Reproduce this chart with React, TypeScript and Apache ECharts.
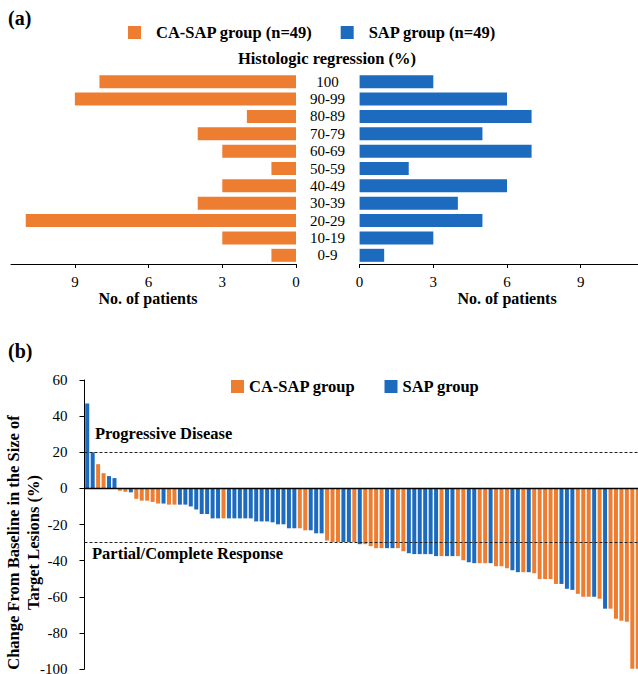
import React, { useEffect, useRef } from "react";
import * as echarts from "echarts";

// ---------- Panel (a): histologic regression ----------
const regressionCategories = ["100", "90-99", "80-89", "70-79", "60-69", "50-59", "40-49", "30-39", "20-29", "10-19", "0-9"];
const caSapCounts = [8, 9, 2, 4, 3, 1, 3, 4, 11, 3, 1];
const sapCounts = [3, 6, 7, 5, 7, 2, 6, 4, 5, 3, 1];

// ---------- Panel (b): waterfall ----------
const waterfallValues = [
  47, 20, 13.4, 8.4, 6.8, 5.7, -1.3, -1.9, -2.2, -5.8,
  -6.8, -6.8, -7.5, -8.4, -8.4, -9, -9, -9, -9, -10,
  -11.7, -14.2, -14.2, -16.6, -16.6, -16.6, -16.6, -16.6, -16.6, -16.6,
  -16.6, -18.3, -18.3, -18.3, -18.8, -19.9, -19.9, -22.1, -22.1, -22.1,
  -23.2, -23.2, -24.9, -24.9, -28.9, -29.8, -29.8, -29.8, -29.8, -29.8,
  -30.9, -30.9, -32, -33.1, -33.1, -33.1, -33.1, -33.1, -34.8, -35.9,
  -36.4, -36.4, -36.4, -36.4, -37.5, -37.5, -37.5, -37.5, -37.5, -39.8,
  -40.9, -41.4, -41.4, -41.4, -41.4, -43.1, -43.1, -44.2, -45.3, -46.4,
  -46.4, -46.4, -47, -50.2, -50.2, -50.2, -52.9, -52.9, -55.6, -56.2,
  -58.4, -60, -60, -60, -61.1, -66.6, -66.6, -72.2, -73.3, -73.9,
  -99.8, -99.8,
];
// C = CA-SAP group, S = SAP group
const waterfallGroups = [
  "S", "S", "C", "C", "S", "S", "C", "C", "S", "C",
  "C", "C", "C", "C", "S", "C", "C", "S", "S", "S",
  "S", "S", "S", "S", "S", "C", "S", "S", "S", "S",
  "S", "S", "S", "S", "S", "S", "S", "S", "S", "C",
  "C", "S", "S", "S", "C", "C", "C", "S", "S", "C",
  "S", "C", "C", "C", "C", "S", "S", "C", "C", "S",
  "S", "S", "S", "S", "S", "C", "S", "S", "C", "C",
  "S", "S", "C", "C", "S", "C", "C", "C", "S", "S",
  "C", "S", "C", "C", "C", "C", "C", "S", "S", "S",
  "C", "C", "C", "S", "C", "S", "C", "C", "C", "C",
  "C", "C",
];
const thresholdLines = [20, -30];

const ORANGE = "#ED7D31";
const BLUE = "#1C6BBF";
const FONT = "'Liberation Serif', 'Times New Roman', Times, serif";
const BOLD_SIZE = 16.5;

export default function App() {
  const ref = useRef<HTMLDivElement>(null);

  useEffect(() => {
    if (!ref.current) return;
    const chart = echarts.init(ref.current, null, { renderer: "svg" });
    const patientIds = waterfallValues.map((_, i) => String(i + 1));
    const caData = waterfallValues.map((v, i) => (waterfallGroups[i] === "C" ? v : "-"));
    const sapData = waterfallValues.map((v, i) => (waterfallGroups[i] === "S" ? v : "-"));

    const tickLabel = { color: "#000", fontFamily: FONT, fontSize: 15 };
    const axisNameStyle = { color: "#000", fontFamily: FONT, fontSize: 16, fontWeight: "bold" as const };
    const boldText = { fontFamily: FONT, fontSize: BOLD_SIZE, fontWeight: "bold", fill: "#000" };

    const option: any = {
      animation: false,
      textStyle: { fontFamily: FONT },
      legend: [
        {
          data: ["CA-SAP group (n=49)", "SAP group (n=49)"],
          left: 128,
          top: 24,
          padding: 0,
          itemWidth: 13,
          itemHeight: 13,
          itemGap: 28,
          icon: "rect",
          selectedMode: false,
          textStyle: { color: "#000", fontFamily: FONT, fontSize: BOLD_SIZE, fontWeight: "bold", padding: [0, 0, 0, 10] },
        },
        {
          data: ["CA-SAP group", "SAP group"],
          left: 231,
          top: 378,
          padding: 0,
          itemWidth: 13,
          itemHeight: 13,
          itemGap: 29,
          icon: "rect",
          selectedMode: false,
          textStyle: { color: "#000", fontFamily: FONT, fontSize: BOLD_SIZE, fontWeight: "bold" },
        },
      ],
      grid: [
        { left: 11, top: 73, width: 285, height: 191, outerBoundsMode: "none", containLabel: false },
        { left: 359.6, top: 73, width: 285, height: 191, outerBoundsMode: "none", containLabel: false },
        { left: 84.5, top: 380, width: 556, height: 289, outerBoundsMode: "none", containLabel: false },
      ],
      xAxis: [
        {
          gridIndex: 0,
          type: "value",
          inverse: true,
          min: 0,
          max: 11.6,
          interval: 3,
          axisLine: { show: true, lineStyle: { color: "#000", width: 1 } },
          axisTick: { show: true, length: 4, lineStyle: { color: "#000" } },
          axisLabel: { ...tickLabel, margin: 10, showMaxLabel: false },
          splitLine: { show: false },
          name: "No. of patients",
          nameLocation: "middle",
          nameGap: 34,
          nameMoveOverlap: false,
          nameTextStyle: { ...axisNameStyle, verticalAlign: "middle", padding: [0, 11, 0, 0] },
        },
        {
          gridIndex: 1,
          type: "value",
          min: 0,
          max: 11.6,
          interval: 3,
          axisLine: { show: true, lineStyle: { color: "#000", width: 1 } },
          axisTick: { show: true, length: 4, lineStyle: { color: "#000" } },
          axisLabel: { ...tickLabel, margin: 10, showMaxLabel: false },
          splitLine: { show: false },
          name: "No. of patients",
          nameLocation: "middle",
          nameGap: 34,
          nameMoveOverlap: false,
          nameTextStyle: { ...axisNameStyle, verticalAlign: "middle", padding: [0, 0, 0, 10] },
        },
        {
          gridIndex: 2,
          type: "category",
          data: patientIds,
          z: 5,
          axisLine: { show: true, onZero: true, lineStyle: { color: "#000", width: 1.3 } },
          axisTick: { show: false },
          axisLabel: { show: false },
          splitLine: { show: false },
        },
      ],
      yAxis: [
        {
          gridIndex: 0,
          type: "category",
          data: regressionCategories,
          inverse: true,
          axisLine: { show: false },
          axisTick: { show: false },
          axisLabel: { show: false },
        },
        {
          gridIndex: 1,
          type: "category",
          data: regressionCategories,
          inverse: true,
          axisLine: { show: false },
          axisTick: { show: false },
          axisLabel: { ...tickLabel, align: "center", margin: 32, interval: 0 },
        },
        {
          gridIndex: 2,
          type: "value",
          min: -100,
          max: 60,
          interval: 20,
          axisLine: { show: true, lineStyle: { color: "#000", width: 1 } },
          axisTick: { show: true, length: 5, lineStyle: { color: "#000" } },
          axisLabel: { ...tickLabel, margin: 17 },
          splitLine: { show: false },
          name: "Change From Baseline in the Size of\nTarget Lesions (%)",
          nameLocation: "middle",
          nameGap: 61,
          nameMoveOverlap: false,
          nameTextStyle: {
            ...axisNameStyle,
            fontSize: BOLD_SIZE,
            lineHeight: 20,
            verticalAlign: "middle",
            padding: [0, 36, 0, 0],
          },
        },
      ],
      series: [
        {
          type: "bar",
          name: "CA-SAP group (n=49)",
          xAxisIndex: 0,
          yAxisIndex: 0,
          data: caSapCounts,
          barWidth: 13,
          itemStyle: { color: ORANGE },
        },
        {
          type: "bar",
          name: "SAP group (n=49)",
          xAxisIndex: 1,
          yAxisIndex: 1,
          data: sapCounts,
          barWidth: 13,
          itemStyle: { color: BLUE },
        },
        {
          type: "bar",
          name: "CA-SAP group",
          xAxisIndex: 2,
          yAxisIndex: 2,
          data: caData,
          barWidth: 4,
          barGap: "-100%",
          itemStyle: { color: ORANGE },
          markLine: {
            silent: true,
            symbol: "none",
            label: { show: false },
            lineStyle: { type: [3, 2], color: "#222", width: 1.2 },
            data: thresholdLines.map((v) => ({ yAxis: v })),
          },
        },
        {
          type: "bar",
          name: "SAP group",
          xAxisIndex: 2,
          yAxisIndex: 2,
          data: sapData,
          barWidth: 4,
          barGap: "-100%",
          itemStyle: { color: BLUE },
        },
      ],
      graphic: [
        {
          type: "text",
          left: 8,
          top: 8,
          style: { text: "(a)", fontFamily: FONT, fontSize: 20, fontWeight: "bold", fill: "#000" },
        },
        {
          type: "text",
          left: 8,
          top: 341,
          style: { text: "(b)", fontFamily: FONT, fontSize: 20, fontWeight: "bold", fill: "#000" },
        },
        {
          type: "text",
          x: 327,
          y: 58,
          style: { ...boldText, text: "Histologic regression (%)", align: "center", verticalAlign: "middle" },
        },
        {
          type: "text",
          x: 95,
          y: 433,
          style: { ...boldText, text: "Progressive Disease", align: "left", verticalAlign: "middle" },
        },
        {
          type: "text",
          x: 92,
          y: 553,
          style: { ...boldText, text: "Partial/Complete Response", align: "left", verticalAlign: "middle" },
        },
      ],
    };

    chart.setOption(option);
    return () => chart.dispose();
  }, []);

  return (
    <div
      ref={ref}
      style={{ position: "absolute", left: 0, top: 0, width: 638, height: 674, background: "#fff" }}
    />
  );
}
